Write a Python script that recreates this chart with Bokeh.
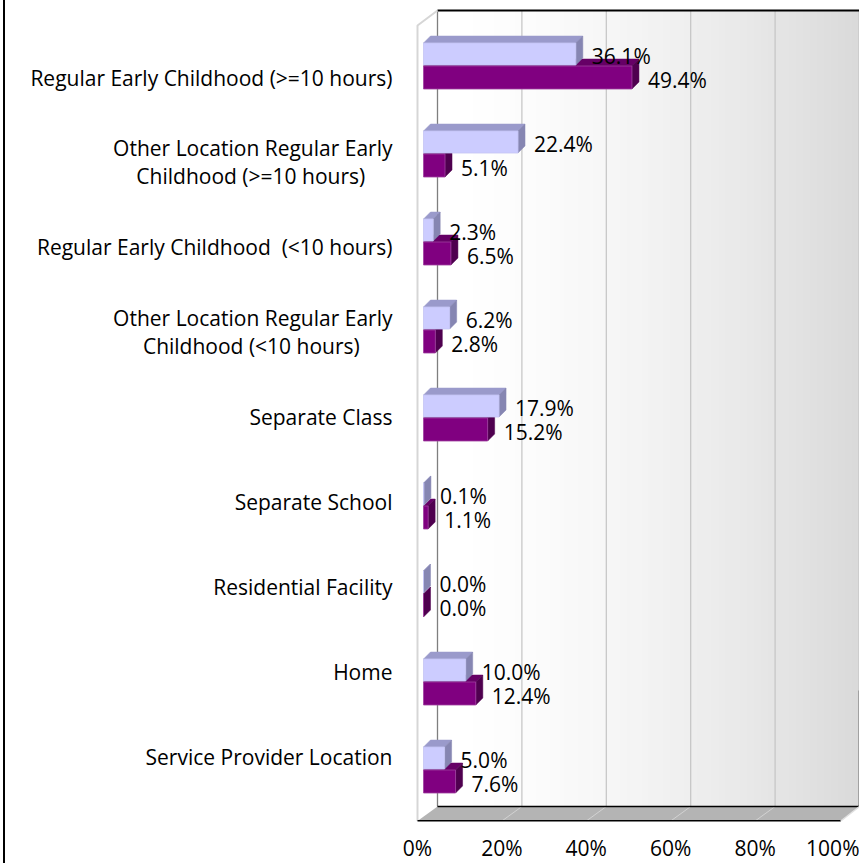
from bokeh.plotting import figure
from bokeh.models import Range1d, LinearAxis, FixedTicker, PrintfTickFormatter, ColumnDataSource, InlineStyleSheet
from bokeh.core.properties import value
from bokeh.embed import file_html
from bokeh.resources import INLINE

# ---------------- data ----------------
NB = "\u00a0"
categories = [
    "Regular Early Childhood (>=10 hours)",
    "Other Location Regular Early\nChildhood (>=10 hours)" + NB * 5,
    "Regular Early Childhood " + NB + "(<10 hours)",
    "Other Location Regular Early\nChildhood (<10 hours)" + NB * 6,
    "Separate Class",
    "Separate School",
    "Residential Facility",
    "Home",
    "Service Provider Location",
]
series_light = [36.1, 22.4, 2.3, 6.2, 17.9, 0.1, 0.0, 10.0, 5.0]
series_dark = [49.4, 5.1, 6.5, 2.8, 15.2, 1.1, 0.0, 12.4, 7.6]
x_ticks = [0, 20, 40, 60, 80, 100]

# ---------------- layout constants (page pixels, figure origin at page 0) ----------------
FONT = "Open Sans"
FS = "21px"
FL, FR, FT, FB = 405, 859, 8, 821      # frame box on the page
X0, K = 417, 4.22                      # page x of 0 %, px per %
Y0, ROW = 64.5, 88.0                   # first bar-cluster centre, spacing
L0, LROW = 77.0, 84.9                  # first category label centre, spacing
n = len(categories)

x_start, x_end = (FL - X0) / K, (FR - X0) / K
y_end = (n - 1) + (Y0 - FT) / ROW
y_start = y_end - (FB - FT) / ROW
l_end = (n - 1) + (L0 - FT) / LROW
l_start = l_end - (FB - FT) / LROW


def px(x):
    return (x - X0) / K


def py(y):
    return y_end - (y - FT) / ROW


def ph(h):
    return h / ROW


p = figure(
    frame_width=FR - FL, frame_height=FB - FT,
    x_range=Range1d(x_start, x_end), y_range=Range1d(y_start, y_end),
    output_backend="svg", toolbar_location=None, y_axis_location=None,
    min_border_top=FT, min_border_right=0, min_border_left=FL, min_border_bottom=30,
    background_fill_color="white", border_fill_color="white",
)
p.outline_line_color = None
p.xgrid.visible = False
p.ygrid.visible = False

# chart border (left edge), drawn by CSS on the plot element
p.stylesheets = [InlineStyleSheet(css=":host::after { content: ''; position: absolute; "
                                      "left: 3px; top: 0; bottom: 0; width: 2px; "
                                      "background: #000; z-index: 100; pointer-events: none; }")]

# ---------------- 3D walls ----------------
bdx = px(437)            # back wall offset (data units)
wall_top = py(10)
floor_back = py(806)
floor_front = py(820.5)

# gradient on back wall, white -> light grey
N = 60
lefts, rights, cols = [], [], []
for i in range(N):
    t = i / (N - 1)
    g = int(round(255 - (255 - 218) * (t ** 1.6)))
    lefts.append(bdx + 100 * i / N)
    rights.append(min(bdx + 100 * (i + 1) / N + 1.0, bdx + 100))
    cols.append("#%02x%02x%02x" % (g, g, g))
p.quad(left=lefts, right=rights, bottom=floor_back, top=wall_top,
       fill_color=cols, line_color=None)

# back wall gridlines
for t in x_ticks[1:-1]:
    p.segment(x0=bdx + t, y0=floor_back, x1=bdx + t, y1=wall_top,
              line_color="#c4c4c4", line_width=1.2)
# back wall edges
p.segment(x0=bdx, y0=floor_back, x1=bdx, y1=wall_top, line_color="#7f7f7f", line_width=1.3)
p.segment(x0=bdx + 100, y0=floor_back, x1=bdx + 100, y1=wall_top, line_color="#a6a6a6", line_width=1.5)
p.segment(x0=bdx + 100, y0=floor_back, x1=bdx + 100, y1=py(690), line_color="#202020", line_width=1.5)
p.segment(x0=bdx, y0=wall_top, x1=bdx + 100, y1=wall_top, line_color="#000000", line_width=2)

# side wall edge (light)
p.line(x=[0, 0, bdx], y=[floor_front, py(25), wall_top], line_color="#d6d6d6", line_width=2)

# floor
p.patch(x=[0, 100.3, bdx + 100, bdx], y=[floor_front, floor_front, floor_back, floor_back],
        fill_color="#b4b4b4", line_color=None)
for t in x_ticks[1:-1]:
    p.segment(x0=t, y0=floor_front, x1=bdx + t, y1=floor_back, line_color="#d2d2d2", line_width=1)
p.segment(x0=0, y0=floor_front, x1=100.3, y1=floor_front, line_color="#000000", line_width=2)
p.segment(x0=bdx, y0=floor_back, x1=bdx + 100, y1=floor_back, line_color="#000000", line_width=1.5)
p.segment(x0=100.3, y0=floor_front, x1=bdx + 100, y1=floor_back, line_color="#e0e0e0", line_width=1.5)

# ---------------- 3D bars ----------------
b0 = px(423)
ddx = 7 / K
ddy = ph(7)


def draw_series(vals, top_px, bot_px, front, topc, side, edge, label_dy):
    fl, fr, fb, ftp = [], [], [], []
    txs, tys, sxs, sys_ = [], [], [], []
    lx, ly, lt = [], [], []
    for k, v in enumerate(vals):
        c = Y0 + ROW * k
        top = py(c + top_px)
        bot = py(c + bot_px)
        r = b0 + v
        fl.append(b0); fr.append(r); fb.append(bot); ftp.append(top)
        txs.append([b0, r, r + ddx, b0 + ddx])
        tys.append([top, top, top + ddy, top + ddy])
        sxs.append([r, r, r + ddx, r + ddx])
        sys_.append([bot, top, top + ddy, bot + ddy])
        lx.append(r + ddx)
        ly.append((top + bot) / 2)
        lt.append("%.1f%%" % v)
    p.patches(xs=txs, ys=tys, fill_color=topc, line_color=topc, line_width=0.5)
    p.patches(xs=sxs, ys=sys_, fill_color=side, line_color=side, line_width=0.5)
    p.quad(left=fl, right=fr, bottom=fb, top=ftp, fill_color=front, line_color=edge, line_width=0.8)
    src = ColumnDataSource(dict(x=lx, y=ly, t=lt))
    p.text(x="x", y="y", text="t", source=src, x_offset=9, y_offset=label_dy,
           text_font=value(FONT), text_font_size=value(FS), text_color="black",
           text_align="left", text_baseline="middle")


draw_series(series_dark, 1, 24, "#800080", "#660066", "#4f004f", "#a040a0", 2)
draw_series(series_light, -22, 0, "#ccccff", "#9a9acb", "#8686b2", "#c4c4f4", 2)

# ---------------- axes ----------------
p.extra_y_ranges = {"labels": Range1d(l_start, l_end)}
yax = LinearAxis(
    y_range_name="labels",
    ticker=FixedTicker(ticks=list(range(n))),
    major_label_overrides={n - 1 - k: categories[k] for k in range(n)},
    axis_line_color=None, major_tick_line_color=None, minor_tick_line_color=None,
    major_tick_out=0, major_tick_in=0,
    major_label_standoff=13,
    major_label_text_font=FONT, major_label_text_font_size=FS,
    major_label_text_line_height=1.0,
    major_label_text_color="black",
)
p.add_layout(yax, "left")

p.xaxis.ticker = FixedTicker(ticks=x_ticks)
p.xaxis.formatter = PrintfTickFormatter(format="%d%%")
p.xaxis.axis_line_color = None
p.xaxis.major_tick_line_color = None
p.xaxis.minor_tick_line_color = None
p.xaxis.major_tick_out = 0
p.xaxis.major_tick_in = 0
p.xaxis.major_label_standoff = 12
p.xaxis.major_label_text_font = FONT
p.xaxis.major_label_text_font_size = FS
p.xaxis.major_label_text_color = "black"

open("out.html", "w").write(file_html(p, INLINE))
